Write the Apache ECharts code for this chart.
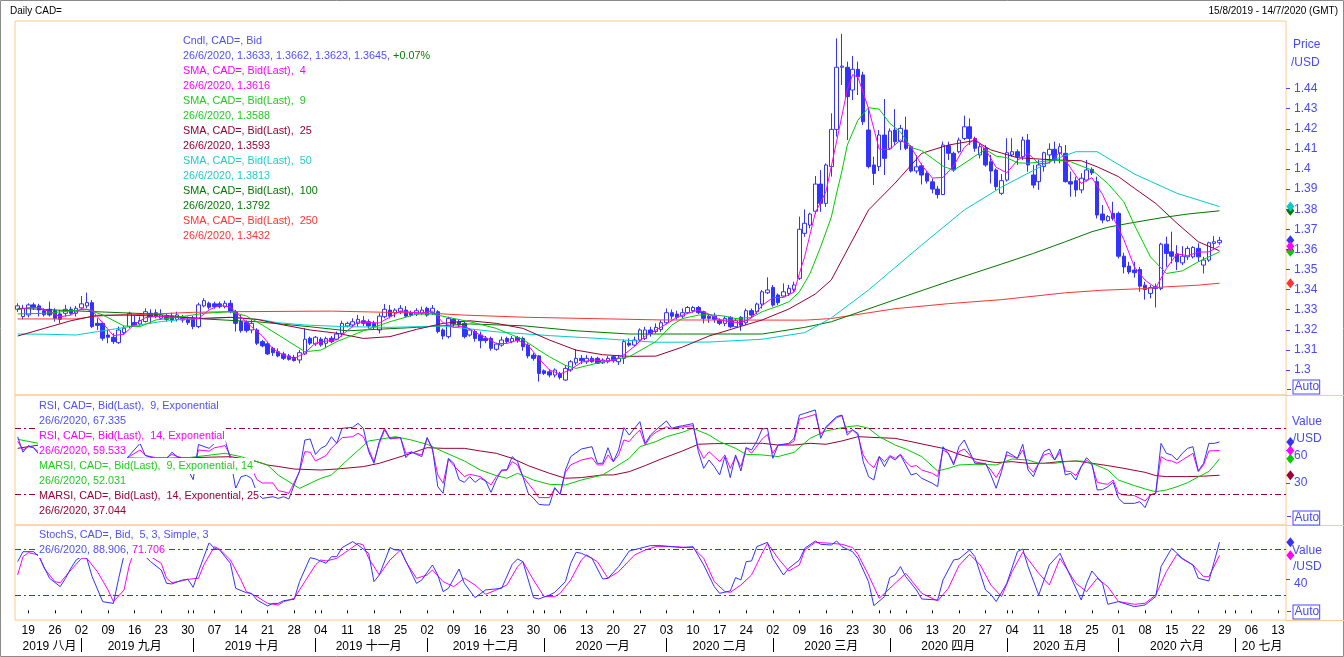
<!DOCTYPE html>
<html><head><meta charset="utf-8">
<script src="https://cdn.jsdelivr.net/npm/echarts@6/dist/echarts.min.js"></script>
<style>html,body{margin:0;padding:0;background:#fff}#c{width:1344px;height:657px}</style>
</head><body><div id="c"></div>
<script>
// ---------- DATA ----------
// daily candles from 15/8/2019, [open, close, low, high]
const ohlc = [
[1.3302,1.3319,1.3289,1.3332],[1.3266,1.3307,1.3252,1.3324],[1.3274,1.3324,1.3262,1.3332],[1.3324,1.3310,1.3299,1.3335],[1.3319,1.3299,1.3266,1.3329],
[1.3295,1.3275,1.3266,1.3307],[1.3302,1.3274,1.3266,1.3340],[1.3295,1.3257,1.3241,1.3307],[1.3279,1.3252,1.3232,1.3299],[1.3282,1.3302,1.3266,1.3324],
[1.3302,1.3282,1.3274,1.3315],[1.3282,1.3307,1.3266,1.3319],[1.3309,1.3329,1.3299,1.3368],[1.3319,1.3335,1.3307,1.3385],[1.3335,1.3216,1.3208,1.3348],
[1.3232,1.3222,1.3199,1.3257],[1.3232,1.3158,1.3146,1.3241],[1.3174,1.3163,1.3133,1.3199],[1.3163,1.3141,1.3130,1.3183],[1.3136,1.3199,1.3130,1.3216],
[1.3186,1.3208,1.3174,1.3219],[1.3216,1.3282,1.3208,1.3290],[1.3236,1.3221,1.3216,1.3269],[1.3229,1.3246,1.3219,1.3266],[1.3241,1.3290,1.3236,1.3307],
[1.3282,1.3266,1.3232,1.3302],[1.3285,1.3266,1.3257,1.3302],[1.3257,1.3274,1.3249,1.3302],[1.3269,1.3252,1.3241,1.3282],[1.3269,1.3249,1.3236,1.3285],
[1.3252,1.3274,1.3241,1.3290],[1.3262,1.3249,1.3236,1.3274],[1.3252,1.3236,1.3224,1.3266],[1.3257,1.3216,1.3203,1.3269],[1.3216,1.3324,1.3208,1.3335],
[1.3319,1.3345,1.3312,1.3357],[1.3332,1.3312,1.3302,1.3340],[1.3329,1.3315,1.3305,1.3340],[1.3329,1.3315,1.3307,1.3340],[1.3315,1.3332,1.3307,1.3345],
[1.3332,1.3290,1.3282,1.3348],[1.3290,1.3232,1.3191,1.3299],[1.3241,1.3196,1.3186,1.3274],[1.3236,1.3196,1.3186,1.3246],[1.3199,1.3232,1.3183,1.3252],
[1.3199,1.3133,1.3124,1.3208],[1.3141,1.3120,1.3113,1.3149],[1.3130,1.3080,1.3075,1.3141],[1.3108,1.3086,1.3070,1.3116],[1.3091,1.3070,1.3063,1.3108],
[1.3080,1.3058,1.3050,1.3091],[1.3070,1.3053,1.3047,1.3080],[1.3063,1.3047,1.3042,1.3075],[1.3050,1.3086,1.3033,1.3100],[1.3080,1.3153,1.3075,1.3208],
[1.3158,1.3133,1.3124,1.3166],[1.3130,1.3163,1.3120,1.3169],[1.3153,1.3125,1.3116,1.3163],[1.3133,1.3156,1.3108,1.3166],[1.3158,1.3141,1.3133,1.3169],
[1.3153,1.3179,1.3149,1.3191],[1.3182,1.3232,1.3166,1.3245],[1.3219,1.3232,1.3212,1.3240],[1.3224,1.3240,1.3212,1.3257],[1.3232,1.3252,1.3215,1.3274],
[1.3245,1.3232,1.3219,1.3268],[1.3240,1.3219,1.3207,1.3252],[1.3232,1.3215,1.3199,1.3245],[1.3199,1.3268,1.3182,1.3282],[1.3265,1.3302,1.3257,1.3328],
[1.3298,1.3268,1.3257,1.3323],[1.3285,1.3298,1.3262,1.3307],[1.3290,1.3307,1.3278,1.3323],[1.3298,1.3268,1.3262,1.3318],[1.3285,1.3273,1.3265,1.3295],
[1.3278,1.3295,1.3268,1.3307],[1.3282,1.3298,1.3273,1.3315],[1.3307,1.3273,1.3265,1.3315],[1.3285,1.3307,1.3273,1.3323],[1.3290,1.3191,1.3182,1.3298],
[1.3199,1.3169,1.3152,1.3207],[1.3166,1.3257,1.3157,1.3265],[1.3252,1.3229,1.3215,1.3257],[1.3240,1.3224,1.3212,1.3249],[1.3232,1.3166,1.3157,1.3240],
[1.3174,1.3199,1.3166,1.3207],[1.3191,1.3157,1.3141,1.3202],[1.3174,1.3146,1.3108,1.3191],[1.3157,1.3146,1.3133,1.3169],[1.3157,1.3108,1.3096,1.3166],
[1.3103,1.3129,1.3096,1.3136],[1.3124,1.3149,1.3116,1.3166],[1.3157,1.3141,1.3133,1.3166],[1.3141,1.3157,1.3133,1.3169],[1.3162,1.3146,1.3136,1.3169],
[1.3157,1.3116,1.3096,1.3166],[1.3124,1.3070,1.3058,1.3133],[1.3074,1.3058,1.3046,1.3086],[1.3070,1.2983,1.2942,1.3074],[1.2996,1.2983,1.2975,1.3003],
[1.2991,1.2975,1.2963,1.3003],[1.2975,1.3000,1.2963,1.3008],[1.2983,1.2963,1.2953,1.2991],[1.2950,1.3008,1.2946,1.3025],[1.3000,1.3041,1.2991,1.3049],
[1.3036,1.3058,1.3025,1.3103],[1.3058,1.3046,1.3030,1.3074],[1.3041,1.3058,1.3030,1.3074],[1.3058,1.3041,1.3036,1.3069],[1.3058,1.3033,1.3030,1.3066],
[1.3036,1.3049,1.3030,1.3058],[1.3041,1.3058,1.3033,1.3069],[1.3066,1.3046,1.3036,1.3074],[1.3041,1.3058,1.3025,1.3074],[1.3058,1.3141,1.3030,1.3152],
[1.3133,1.3124,1.3116,1.3157],[1.3124,1.3149,1.3116,1.3166],[1.3149,1.3199,1.3141,1.3207],[1.3157,1.3199,1.3149,1.3215],[1.3199,1.3182,1.3166,1.3215],
[1.3191,1.3212,1.3182,1.3232],[1.3202,1.3235,1.3190,1.3248],[1.3235,1.3285,1.3228,1.3306],[1.3285,1.3268,1.3252,1.3301],[1.3278,1.3262,1.3252,1.3295],
[1.3268,1.3285,1.3257,1.3306],[1.3285,1.3311,1.3278,1.3318],[1.3295,1.3311,1.3285,1.3318],[1.3311,1.3285,1.3278,1.3318],[1.3290,1.3257,1.3232,1.3295],
[1.3268,1.3257,1.3235,1.3278],[1.3268,1.3252,1.3235,1.3285],[1.3248,1.3232,1.3223,1.3257],[1.3232,1.3257,1.3218,1.3268],[1.3262,1.3215,1.3207,1.3268],
[1.3215,1.3245,1.3212,1.3257],[1.3262,1.3223,1.3195,1.3268],[1.3235,1.3295,1.3223,1.3306],[1.3295,1.3273,1.3262,1.3306],[1.3290,1.3328,1.3278,1.3335],
[1.3328,1.3389,1.3306,1.3398],[1.3384,1.3398,1.3378,1.3461],[1.3411,1.3323,1.3315,1.3423],[1.3373,1.3335,1.3323,1.3381],[1.3368,1.3389,1.3365,1.3431],
[1.3381,1.3406,1.3368,1.3423],[1.3401,1.3423,1.3390,1.3439],[1.3456,1.3700,1.3448,1.3763],[1.3680,1.3730,1.3663,1.3799],[1.3721,1.3776,1.3705,1.3783],
[1.3790,1.3925,1.3775,1.3965],[1.3925,1.3829,1.3787,1.3995],[1.3829,1.4020,1.3812,1.4028],[1.4012,1.4197,1.3962,1.4277],[1.4197,1.4506,1.4161,1.4650],
[1.4506,1.4512,1.4418,1.4672],[1.4506,1.4360,1.4144,1.4534],[1.4393,1.4496,1.4343,1.4562],[1.4496,1.4459,1.4368,1.4534],[1.4468,1.4235,1.4219,1.4484],
[1.4194,1.4012,1.4003,1.4302],[1.4020,1.3978,1.3920,1.4061],[1.4012,1.4169,1.3990,1.4194],[1.4169,1.4053,1.3970,1.4348],[1.4103,1.4189,1.4094,1.4202],
[1.4194,1.4136,1.4119,1.4298],[1.4136,1.4202,1.4094,1.4219],[1.4194,1.4103,1.4094,1.4260],[1.4111,1.3990,1.3983,1.4119],[1.3990,1.4011,1.3978,1.4069],
[1.4016,1.3970,1.3923,1.4028],[1.3978,1.3940,1.3928,1.3990],[1.3936,1.3900,1.3879,1.3953],[1.3900,1.3873,1.3853,1.3916],[1.3873,1.4119,1.3870,1.4136],
[1.4116,1.4078,1.4045,1.4136],[1.4078,1.3995,1.3986,1.4086],[1.4086,1.4144,1.4078,1.4156],[1.4152,1.4210,1.4144,1.4265],[1.4210,1.4152,1.4119,1.4252],
[1.4152,1.4103,1.4086,1.4161],[1.4070,1.4111,1.4053,1.4128],[1.4103,1.4020,1.4011,1.4119],[1.4036,1.3990,1.3928,1.4070],[1.3995,1.3912,1.3895,1.4003],
[1.3879,1.3942,1.3870,1.3975],[1.3945,1.4081,1.3937,1.4153],[1.4070,1.4086,1.4061,1.4153],[1.4086,1.4061,1.4020,1.4098],[1.4061,1.4144,1.4045,1.4161],
[1.4144,1.4020,1.3986,1.4174],[1.3970,1.3920,1.3904,1.4020],[1.3937,1.4020,1.3896,1.4045],[1.4012,1.4081,1.3987,1.4086],[1.4070,1.4098,1.4028,1.4128],
[1.4098,1.4045,1.4028,1.4136],[1.4078,1.4111,1.4028,1.4128],[1.4078,1.3937,1.3932,1.4119],[1.3937,1.3925,1.3862,1.3987],[1.3942,1.3896,1.3862,1.3962],
[1.3896,1.3954,1.3879,1.3979],[1.3945,1.3995,1.3937,1.4045],[1.3998,1.3981,1.3970,1.4008],[1.3937,1.3771,1.3754,1.3962],[1.3776,1.3746,1.3730,1.3821],
[1.3743,1.3763,1.3738,1.3771],[1.3779,1.3754,1.3743,1.3837],[1.3779,1.3566,1.3555,1.3788],[1.3566,1.3513,1.3480,1.3583],[1.3517,1.3488,1.3477,1.3538],
[1.3497,1.3484,1.3460,1.3538],[1.3500,1.3417,1.3389,1.3513],[1.3422,1.3400,1.3350,1.3439],[1.3381,1.3410,1.3356,1.3422],[1.3414,1.3405,1.3311,1.3430],
[1.3405,1.3626,1.3397,1.3633],[1.3626,1.3580,1.3513,1.3663],[1.3588,1.3566,1.3530,1.3688],[1.3577,1.3538,1.3497,1.3621],[1.3533,1.3566,1.3522,1.3616],
[1.3563,1.3605,1.3547,1.3616],[1.3563,1.3610,1.3555,1.3616],[1.3605,1.3563,1.3538,1.3630],[1.3522,1.3547,1.3480,1.3563],[1.3547,1.3633,1.3538,1.3638],
[1.3630,1.3638,1.3605,1.3666],[1.3633,1.3645,1.3623,1.3662]
];
// moving averages read at sample days: [dayIndex, value]
const sma4 = [[0,1.3300],[2,1.3310],[4,1.3310],[6,1.3290],[8,1.3265],[10,1.3273],[12,1.3305],[14,1.3297],[16,1.3233],[18,1.3171],[20,1.3178],[22,1.3228],[24,1.3260],[26,1.3267],[28,1.3265],[30,1.3262],[32,1.3252],[34,1.3256],[36,1.3299],[38,1.3322],[40,1.3313],[42,1.3263],[44,1.3214],[46,1.3170],[48,1.3105],[50,1.3074],[52,1.3057],[54,1.3085],[56,1.3134],[58,1.3144],[60,1.3150],[62,1.3196],[64,1.3239],[66,1.3236],[68,1.3234],[70,1.3263],[72,1.3294],[74,1.3287],[76,1.3284],[78,1.3293],[80,1.3235],[82,1.3212],[84,1.3219],[86,1.3187],[88,1.3162],[90,1.3132],[92,1.3132],[94,1.3148],[96,1.3122],[98,1.3057],[100,1.3000],[102,1.2980],[104,1.3003],[106,1.3038],[108,1.3051],[110,1.3045],[112,1.3047],[114,1.3076],[116,1.3118],[118,1.3168],[120,1.3198],[122,1.3229],[124,1.3263],[126,1.3282],[128,1.3298],[130,1.3278],[132,1.3250],[134,1.3239],[136,1.3235],[138,1.3259],[140,1.3321],[142,1.3360],[144,1.3361],[146,1.3388],[147,1.3480],[148,1.3565],[150,1.3783],[152,1.3888],[154,1.4138],[156,1.4394],[157,1.4469],[158,1.4457],[160,1.4301],[162,1.4099],[164,1.4097],[166,1.4145],[168,1.4108],[170,1.4019],[172,1.3955],[174,1.3958],[176,1.4016],[178,1.4107],[180,1.4152],[182,1.4097],[184,1.4008],[186,1.3981],[188,1.4043],[190,1.4078],[192,1.4026],[194,1.4030],[196,1.4084],[198,1.4005],[200,1.3928],[202,1.3957],[204,1.3873],[206,1.3759],[208,1.3649],[210,1.3513],[212,1.3447],[214,1.3408],[216,1.3505],[218,1.3578],[220,1.3569],[222,1.3586],[224,1.3588],[226,1.3616]];
const sma9 = [[0,1.3279],[5,1.3282],[10,1.3294],[13,1.3302],[16,1.3274],[20,1.3219],[23,1.3216],[26,1.3249],[30,1.3262],[35,1.3282],[40,1.3290],[43,1.3269],[46,1.3224],[50,1.3158],[54,1.3091],[57,1.3099],[60,1.3141],[62,1.3162],[65,1.3195],[70,1.3240],[75,1.3278],[78,1.3278],[81,1.3262],[85,1.3240],[90,1.3207],[95,1.3152],[98,1.3099],[100,1.3066],[103,1.3023],[105,1.3008],[110,1.3041],[115,1.3066],[120,1.3141],[123,1.3223],[125,1.3256],[128,1.3273],[130,1.3276],[133,1.3268],[135,1.3256],[138,1.3261],[140,1.3290],[143,1.3318],[145,1.3339],[147,1.3389],[149,1.3480],[151,1.3613],[153,1.3760],[154,1.3880],[155,1.3990],[156,1.4119],[158,1.4243],[160,1.4305],[162,1.4298],[164,1.4227],[166,1.4185],[168,1.4107],[170,1.4091],[172,1.4053],[174,1.4014],[176,1.3994],[178,1.4028],[180,1.4064],[182,1.4097],[184,1.4064],[186,1.4056],[188,1.4031],[190,1.4028],[195,1.4045],[198,1.4036],[200,1.4015],[202,1.3995],[205,1.3928],[208,1.3837],[210,1.3721],[213,1.3563],[216,1.3480],[219,1.3493],[222,1.3538],[226,1.3588]];
const sma25 = [[0,1.3169],[5,1.3207],[10,1.3245],[15,1.3272],[20,1.3274],[25,1.3269],[30,1.3262],[35,1.3257],[40,1.3262],[45,1.3252],[50,1.3224],[55,1.3199],[60,1.3183],[65,1.3157],[70,1.3166],[75,1.3202],[80,1.3232],[85,1.3245],[90,1.3232],[95,1.3207],[100,1.3149],[105,1.3099],[110,1.3076],[115,1.3068],[120,1.3069],[125,1.3114],[130,1.3169],[135,1.3209],[140,1.3249],[145,1.3303],[150,1.3378],[153,1.3448],[160,1.3796],[165,1.3930],[170,1.4078],[175,1.4119],[180,1.4142],[183,1.4095],[188,1.4056],[195,1.4045],[200,1.4041],[203,1.4011],[207,1.3962],[210,1.3904],[214,1.3829],[218,1.3730],[222,1.3638],[226,1.3593]];
const sma50 = [[0,1.3179],[5,1.3178],[11,1.3174],[15,1.3191],[19,1.3207],[23,1.3224],[27,1.3241],[31,1.3252],[36,1.3257],[40,1.3262],[43,1.3257],[46,1.3249],[49,1.3235],[54,1.3224],[61,1.3216],[70,1.3212],[80,1.3219],[90,1.3190],[100,1.3171],[110,1.3156],[120,1.3138],[130,1.3139],[140,1.3153],[148,1.3186],[153,1.3259],[160,1.3398],[170,1.3622],[178,1.3796],[185,1.3910],[195,1.4048],[199,1.4086],[203,1.4086],[210,1.3975],[218,1.3879],[226,1.3813]];
const sma100 = [[0,1.3307],[10,1.3295],[25,1.3279],[35,1.3254],[45,1.3240],[55,1.3215],[62,1.3195],[75,1.3212],[85,1.3229],[95,1.3220],[105,1.3195],[115,1.3179],[125,1.3179],[140,1.3179],[148,1.3212],[153,1.3240],[165,1.3350],[175,1.3440],[185,1.3527],[191,1.3580],[197,1.3638],[202,1.3688],[205,1.3710],[209,1.3730],[215,1.3757],[220,1.3776],[226,1.3792]];
const sma250 = [[0,1.3254],[11,1.3254],[15,1.3269],[24,1.3277],[33,1.3287],[40,1.3290],[59,1.3293],[78,1.3282],[84,1.3273],[96,1.3262],[121,1.3249],[148,1.3248],[153,1.3256],[165,1.3305],[175,1.3330],[185,1.3350],[197,1.3384],[204,1.3397],[212,1.3405],[216,1.3414],[222,1.3422],[226,1.3432]];
// RSI panel
const rsi9 = [[0,72],[1,58],[2,64],[3,62],[4,56],[5,45],[6,47],[7,40],[8,38],[9,55],[10,50],[11,57],[12,63],[13,65],[14,40],[15,41],[16,30],[17,31],[18,28],[19,45],[20,50],[21,55],[23,66],[24,55],[26,52],[28,52],[29,58],[30,54],[31,52],[33,33],[34,65],[36,61.5],[37,66],[38,67.5],[39,69],[40,52],[41,25],[42,35.7],[43,37],[44,34],[45,21],[46,16],[48,17.5],[49,16],[50,17.5],[51,15.5],[53,41],[54,69],[55,70],[56,56],[57,61.5],[58,64],[59,72],[60,66],[61,79.7],[63,80.6],[64,84.2],[65,79.7],[66,58.5],[67,47.9],[68,67.6],[69,79.7],[70,70.6],[71,71.2],[72,71.2],[73,53],[74,58.5],[75,56],[76,54],[77,71.2],[78,61.5],[79,26.7],[80,20.6],[81,52.4],[82,48],[83,33],[84,30.6],[85,35.8],[86,30.6],[87,34.3],[88,31.8],[89,21.5],[90,32.7],[91,41.8],[92,42],[93,54],[94,49.4],[95,35.8],[96,20.6],[97,16.1],[98,10.6],[99,10],[100,10],[101,25.8],[102,19.7],[103,41.8],[104,54],[106,60.9],[108,63],[109,47.9],[110,47.9],[111,62.1],[112,49.4],[113,60],[114,80.3],[115,73.6],[116,79.7],[117,85.8],[118,66],[119,73.6],[120,78.2],[122,86.4],[123,79.7],[124,81.2],[125,82],[127,84],[128,58.5],[129,43.3],[130,50.9],[131,44.9],[132,37.3],[133,54],[134,34.9],[135,55.5],[136,40.9],[137,62.1],[138,60],[139,68],[140,79.1],[141,79.7],[142,52.4],[143,64.5],[145,66],[146,70.6],[147,91.8],[148,93.3],[150,96.4],[151,70.6],[152,81.2],[154,90.3],[155,91.8],[156,73.6],[157,78.2],[158,75.2],[159,49.4],[160,35.8],[161,32.7],[162,54],[163,44.9],[164,54],[165,50.9],[166,55.5],[167,46.4],[168,37.3],[169,38.8],[170,34.3],[172,29.7],[173,26.7],[174,63],[175,57],[176,46.4],[177,63],[178,69.1],[179,58.5],[180,47.9],[182,47.9],[183,37.3],[184,25.2],[185,40.3],[186,58.5],[187,55.5],[188,52.4],[189,65.2],[190,41.8],[191,35.8],[192,47.9],[193,58.5],[194,60.9],[195,50.9],[196,60.9],[197,37.3],[198,38.8],[199,32.7],[200,44.9],[201,53],[202,47.9],[203,23.6],[204,24],[205,26.7],[206,30.6],[207,16.1],[208,11.5],[210,11.5],[211,13],[212,7.6],[213,19.1],[214,20.6],[215,66],[216,57],[217,55.5],[218,50.9],[219,57],[220,61.5],[221,63],[222,40.9],[223,47.9],[224,66],[225,66],[226,67.335]];
const rsi14 = [[0,68],[1,60],[2,63],[3,62],[4,58],[5,50],[6,51],[7,46],[8,45],[9,55],[10,52],[11,56],[12,60],[13,61],[14,45],[15,46],[16,38],[17,39],[18,36],[19,47],[20,50],[21,54],[23,60],[24,55],[26,53],[28,53],[29,56],[30,54],[31,53],[33,40],[34,60],[36,59],[37,62],[38,63],[39,64],[40,55],[41,40],[42,44],[43,45],[44,43],[45,33],[46,30],[48,30],[49,23],[50,22],[51,20.6],[53,40.3],[54,58.5],[55,58],[56,50],[58,55],[59,61.5],[61,71.2],[63,72.1],[64,75.2],[65,72.1],[67,49.4],[68,66],[69,78.2],[70,70],[72,71.2],[73,57],[74,58],[76,55.5],[77,71.2],[78,60],[79,37.3],[80,29.7],[81,51.8],[82,45.8],[84,35.8],[85,37.9],[87,35.8],[89,28.2],[90,35.8],[91,41],[92,41.8],[93,49.4],[94,46.4],[95,35.8],[97,23.6],[98,16.7],[100,16.7],[101,25.2],[102,19.7],[103,39.7],[104,46.4],[106,50.9],[108,53],[109,46.4],[110,46.4],[111,55.5],[112,49.4],[113,55.5],[114,69.1],[115,67.6],[116,73.6],[117,78.2],[118,64.5],[119,72.1],[120,76.1],[122,81.2],[123,79.1],[124,80.3],[127,82.1],[128,62],[129,52.4],[130,58.5],[131,54],[132,49.4],[133,55.5],[134,43.3],[135,54],[136,44.9],[137,62.1],[138,57],[140,70],[141,74.2],[142,57],[143,64.5],[145,65.2],[146,68.2],[147,88.2],[148,89.4],[150,92.4],[151,74.2],[152,79.7],[154,89.4],[155,91.2],[156,76.1],[157,78.2],[158,73.6],[159,55.5],[160,47.9],[161,43.9],[162,54],[163,49.4],[164,54.9],[165,52.4],[166,56.1],[167,49.4],[168,44.9],[169,45.8],[170,41.8],[172,38.8],[173,35.8],[174,60],[175,57],[176,47.9],[177,58.5],[178,60.9],[179,55.5],[180,49.4],[182,47],[183,41.8],[184,34.9],[185,43.3],[186,55.5],[187,54],[188,52.4],[189,60],[190,44.9],[191,39.7],[192,47.9],[193,55.5],[194,57],[195,50.9],[196,57.9],[197,40.9],[198,40.3],[199,36.7],[200,44.9],[201,50.9],[202,46.4],[203,30.6],[204,29.5],[205,28.8],[206,32.7],[207,20.6],[208,19.1],[210,18.5],[212,13.6],[213,19.1],[214,20.6],[215,54],[216,50.9],[217,50],[218,47.9],[219,50.9],[221,57],[222,40.3],[223,46.4],[224,59.1],[226,59.533]];
const marsi9 = [[0,69.7],[4,66],[8,60],[14,57],[20,53],[26,52],[31,52.4],[39,57],[42,53.9],[44,50.9],[47,46.3],[49,37.2],[52,28.1],[53,25.1],[55,29.7],[57,34.2],[59,37.3],[62,50.9],[66,68.2],[68,69.7],[71,72.1],[74,69.1],[77,65.2],[80,58.5],[84,50],[87,41.8],[90,36.7],[92,34.3],[94,38.8],[97,32.7],[100,28.8],[103,28.2],[106,32.7],[110,37.3],[112,43.3],[115,52.4],[117,63],[120,67.6],[122,72.1],[125,76.1],[127,79.7],[130,73.6],[132,67.6],[135,61.5],[137,56],[140,55.5],[143,54],[146,57.9],[149,70.6],[152,77.3],[156,81.2],[158,82.1],[160,79.7],[162,72.1],[165,64.5],[167,60.9],[170,54],[173,40.9],[175,43.3],[177,46.4],[180,47],[184,46.4],[187,51.8],[190,50.9],[192,47.9],[195,47.9],[197,49.4],[200,50],[202,47.9],[205,41.8],[207,32.7],[210,27.6],[212,24.6],[214,22.1],[216,23.6],[218,26.6],[220,30.3],[222,35.5],[224,40.5],[225,46],[226,52.031]];
const marsi25 = [[0,61.5],[4,64.5],[10,60],[15,56],[21,52.4],[27,52.4],[40,53.9],[44,50.9],[47,46.3],[49,45],[52,42.7],[57,41.8],[60,42.7],[65,44.9],[68,47.9],[71,52.4],[74,57],[77,62.1],[80,61.5],[84,61.5],[87,59.1],[90,57],[93,52.4],[96,45.8],[100,38.8],[103,34.3],[106,34.9],[110,37.3],[112,37.3],[115,40.3],[118,45.8],[121,51.8],[125,59.1],[128,65.2],[131,65.8],[134,65.8],[137,66.1],[140,66.1],[143,64.5],[146,64.5],[149,66.1],[152,65.2],[155,68.2],[158,72.1],[162,71.2],[165,70.6],[168,67.6],[171,64.5],[174,61.5],[177,56.1],[180,51.8],[184,48.5],[187,49.4],[190,47.9],[193,47.9],[196,49.4],[199,50],[202,47.9],[205,45.8],[208,43.3],[212,39.7],[214,36.7],[216,35.8],[220,35.8],[223,36.2],[226,37.044]];
// Stochastic panel
const stochK = [[0,63.5],[1,76.5],[3,76.5],[4,70],[6,41.8],[8,30.9],[9,41.8],[10,55],[11,65.7],[12,70],[13,67.8],[14,44],[16,11.3],[18,9.1],[19,41.8],[20,72.2],[21,88],[22,92],[23,85],[24,70],[25,63.5],[27,52.6],[28,35.2],[29,34.4],[31,39.6],[32,40.5],[33,30],[34,50.4],[36,88.3],[37,80.9],[38,78.7],[40,61.3],[41,28.7],[43,23],[44,22.2],[45,13.5],[47,5.7],[48,9.1],[49,9.1],[50,12.6],[52,14.4],[53,37.4],[55,68.7],[56,67],[58,61.3],[59,70],[60,70],[61,81.8],[63,89.6],[64,85.2],[66,74.4],[67,37.4],[68,46.1],[70,81.8],[71,78.7],[72,78.7],[75,35.2],[76,39.6],[78,59.2],[79,46.1],[80,24.4],[81,28.7],[83,53.9],[84,35.2],[86,16.6],[88,26.6],[91,28.7],[93,60],[94,67],[95,63.5],[97,16.6],[98,14.8],[100,20],[101,23.5],[103,37.4],[104,61.3],[105,75.7],[106,74.4],[108,67.8],[110,40.9],[111,41.8],[113,57],[115,77.4],[117,80.9],[119,84.4],[121,84.4],[125,81.8],[127,83.1],[129,59.2],[131,30.9],[132,22.2],[134,25.3],[135,42.7],[136,39.6],[137,63.5],[138,64.4],[139,83.1],[141,88.7],[142,67.8],[144,46.1],[145,54.8],[147,65.7],[148,80.9],[150,90.4],[151,86.1],[153,85.2],[154,90.4],[155,83.1],[157,76.5],[158,67.8],[160,37.4],[161,6.1],[163,17.9],[164,42.7],[165,46.1],[166,57],[167,43.9],[169,26.6],[170,14.8],[173,13.5],[174,39.6],[176,65.7],[177,67],[179,78.7],[180,70],[182,26.6],[183,20.9],[184,11.4],[186,35.2],[188,76.5],[189,80],[190,57],[192,20],[194,59.2],[196,74.4],[198,43.9],[200,13.5],[201,35.2],[202,51.3],[204,35.2],[205,7.9],[207,11.4],[210,4.8],[212,7],[214,17.9],[215,57],[217,80.9],[219,67.8],[221,59.2],[222,41.8],[224,38.3],[225,63.5],[226,88.906]];
const stochD = [[0,46.1],[1,70],[2,75.2],[4,72.2],[5,54.8],[7,37.4],[8,36.1],[10,52.6],[12,67.8],[13,67.8],[15,50.4],[17,26.5],[18,11.3],[20,26.5],[21,59.1],[22,78.7],[23,82],[24,78],[25,70],[27,61.3],[28,41.8],[29,36.1],[31,38.7],[32,40.5],[34,41.8],[35,59.1],[37,83],[38,79.6],[40,65.7],[42,39.6],[43,24.4],[45,17.9],[47,9.1],[49,7],[50,11.3],[52,15.7],[54,37.4],[56,59.2],[57,65.7],[58,64.4],[60,67.8],[62,77.4],[64,87.4],[65,85.2],[66,67.8],[68,46.1],[70,65.7],[72,78.7],[73,63.5],[75,41.8],[77,46.1],[78,52.6],[80,37.4],[82,30.9],[84,41.8],[86,33.1],[88,20.9],[90,26.6],[92,33.1],[94,57],[95,63.5],[97,39.6],[99,17.9],[101,17.9],[102,22.2],[104,39.6],[106,65.7],[107,72.2],[109,63.5],[111,41.8],[113,50.5],[116,72.2],[118,78.7],[120,83.1],[123,83.1],[127,81.8],[129,67.8],[131,37.4],[133,24.4],[134,23.5],[136,33.1],[138,46.1],[140,74.4],[141,87.4],[143,67.8],[145,51.3],[147,59.2],[148,78.7],[150,88.7],[153,87.4],[155,86.1],[157,81.8],[158,73.1],[160,46.1],[162,15.7],[164,28.7],[167,48.3],[168,39.6],[170,22.2],[173,12.2],[175,28.7],[177,58.3],[179,73.1],[181,59.2],[183,33.1],[185,17.9],[187,50.5],[189,75.7],[192,48.3],[194,33.1],[196,67.8],[199,35.2],[201,24.4],[203,41.8],[205,30.9],[207,11.4],[210,7.9],[212,9.2],[214,20],[216,50.5],[218,73.1],[219,67],[221,59.2],[223,43.9],[224,43.9],[226,71.706]];
// axis ticks / bands / labels
const priceTicks = [1.30,1.31,1.32,1.33,1.34,1.35,1.36,1.37,1.38,1.39,1.40,1.41,1.42,1.43,1.44];
const rsiTicks = [30,60];
const stochTicks = [40];
const rsiBands = [80,20];
const stochBands = [80,20];
const monthNames = ['2019 八月','2019 九月','2019 十月','2019 十一月','2019 十二月','2020 一月','2020 二月','2020 三月','2020 四月','2020 五月','2020 六月','20 七月'];
const lastDate = '26/6/2020';

// ---------- categories: every weekday 15/8/2019 .. 14/7/2020 ----------
const dates = [];
for (let t = Date.UTC(2019,7,15); t <= Date.UTC(2020,6,14); t += 86400000) {
  const d = new Date(t), wd = d.getUTCDay();
  if (wd !== 0 && wd !== 6) dates.push(d.toISOString().slice(0,10));
}
const isMonday = dates.map(s => new Date(s + 'T00:00:00Z').getUTCDay() === 1);
const monthStart = new Set(), monthMid = {};
let seg = 0, mc = 0;
for (let i = 1; i <= dates.length; i++) {
  if (i === dates.length || dates[i].slice(0,7) !== dates[i-1].slice(0,7)) {
    monthMid[Math.round((seg + i - 1) / 2)] = monthNames[mc++];
    if (i < dates.length) monthStart.add(i);
    seg = i;
  }
}

// ---------- styling ----------
const BLUE='#3333ff', MAG='#ff00ff', GRN='#00cc00', MAR='#990033', CYN='#00cccc', DGR='#007700', RED='#ff3333';
const AX='#4848ff', FR='#ffc890', TXTBLUE='#4f4fff';
const FAM = "'Liberation Sans', Arial, 'Noto Sans CJK SC', sans-serif";
const LF = '10.8px ' + FAM;
const lastV = a => a[a.length-1][1];
const toCat = a => a.map(p => [dates[p[0]], p[1]]);
const diamond = (color, v) => ({symbol:'diamond', symbolSize:[8,10], symbolOffset:[7,0], silent:true,
  label:{show:false}, itemStyle:{color}, data:[{coord:[dates[dates.length-1], v]}]});
const lineS = (data, color, xi, yi, extra) => Object.assign({type:'line', xAxisIndex:xi, yAxisIndex:yi,
  data:toCat(data), symbol:'none', showSymbol:false, z:3, lineStyle:{color, width:1}, itemStyle:{color},
  markPoint:diamond(color, lastV(data)), emphasis:{disabled:true}}, extra||{});
const band = (vals, color) => ({silent:true, symbol:'none', label:{show:false},
  lineStyle:{color, width:1, type:[6,3,2,3]}, data: vals.map(v => ({yAxis:v}))});

const mctx = document.createElement('canvas').getContext('2d');
mctx.font = LF;
const tw = s => mctx.measureText(s).width;

const G = [];
function txt(x, y, text, color, font, extra) {
  G.push(Object.assign({type:'text', x, y, z:100, silent:true,
    style:Object.assign({text, fill:color, font: font || LF, verticalAlign:'middle', align:'left'}, extra||{})}));
}
// legend row: white cell (full row height) behind the text, hiding the lines under it
function row(x, y, text, color) {
  G.push({type:'rect', silent:true, z:99, shape:{x:x - 1, y:y - 8, width:tw(text) + 2, height:16}, style:{fill:'#fff', stroke:null}});
  txt(x, y, text, color);
}
function ln(x1,y1,x2,y2,color){ G.push({type:'line', silent:true, z:99, shape:{x1,y1,x2,y2}, style:{stroke:color, lineWidth:1}}); }

// frame + headings
G.push({type:'rect', silent:true, z:98, shape:{x:0.5,y:0.5,width:1343,height:656}, style:{fill:null, stroke:'#8a8a8a', lineWidth:1}});
txt(10, 11, 'Daily CAD=', '#000', '10px ' + FAM);
txt(1338, 11, '15/8/2019 - 14/7/2020 (GMT)', '#000', '10px ' + FAM, {align:'right'});
// separators extended into the axis area
[395.5, 525.5, 620.5].forEach(y => ln(1286, y, 1344, y, FR));

// main legend
const c = ohlc[ohlc.length-1];
const mainRows = [
  ['Cndl, CAD=, Bid', TXTBLUE],
  [lastDate + ', ' + c[0].toFixed(4) + ', ' + c[3].toFixed(4) + ', ' + c[2].toFixed(4) + ', ' + c[1].toFixed(4) + ', ', TXTBLUE],
  ['SMA, CAD=, Bid(Last),  4', MAG], [lastDate + ', ' + lastV(sma4).toFixed(4), MAG],
  ['SMA, CAD=, Bid(Last),  9', '#22cc22'], [lastDate + ', ' + lastV(sma9).toFixed(4), '#22cc22'],
  ['SMA, CAD=, Bid(Last),  25', MAR], [lastDate + ', ' + lastV(sma25).toFixed(4), MAR],
  ['SMA, CAD=, Bid(Last),  50', '#22cccc'], [lastDate + ', ' + lastV(sma50).toFixed(4), '#22cccc'],
  ['SMA, CAD=, Bid(Last),  100', DGR], [lastDate + ', ' + lastV(sma100).toFixed(4), DGR],
  ['SMA, CAD=, Bid(Last),  250', RED], [lastDate + ', ' + lastV(sma250).toFixed(4), RED]
];
mainRows.forEach((r, k) => row(183, 41 + 15*k, r[0], r[1]));
row(183 + tw(mainRows[1][0]), 56, '+0.07%', '#008000');

// RSI legend
const rsiRows = [
  ['RSI, CAD=, Bid(Last),  9, Exponential', TXTBLUE], [lastDate + ', ' + lastV(rsi9).toFixed(3), TXTBLUE],
  ['RSI, CAD=, Bid(Last),  14, Exponential', MAG], [lastDate + ', ' + lastV(rsi14).toFixed(3), MAG],
  ['MARSI, CAD=, Bid(Last),  9, Exponential, 14', '#22cc22'], [lastDate + ', ' + lastV(marsi9).toFixed(3), '#22cc22'],
  ['MARSI, CAD=, Bid(Last),  14, Exponential, 25', MAR], [lastDate + ', ' + lastV(marsi25).toFixed(3), MAR]
];
rsiRows.forEach((r, k) => row(39, 406 + 15*k, r[0], r[1]));
// Stoch legend
row(39, 535, 'StochS, CAD=, Bid,  5, 3, Simple, 3', TXTBLUE);
const st2 = lastDate + ', ' + lastV(stochK).toFixed(3) + ', ';
row(39, 550, st2, TXTBLUE);
row(39 + tw(st2), 550, lastV(stochD).toFixed(3), MAG);

// axis captions and Auto boxes
const AF = '12px ' + FAM;
txt(1293, 45, 'Price', AX, AF);
txt(1291, 63, '/USD', AX, AF);
txt(1292, 422, 'Value', AX, AF);
txt(1293, 439, '/USD', AX, AF);
txt(1292, 551, 'Value', AX, AF);
txt(1293, 567, '/USD', AX, AF);
[[387, 389], [518, 516], [612, 611]].forEach(p => {
  txt(1293.5, p[0], 'Auto', AX, AF, {borderColor:AX, borderWidth:1, padding:[1,0,0,1], backgroundColor:'#fff'});
  ln(1287, p[1] + 0.5, 1291, p[1] + 0.5, AX);
});

const xHidden = gi => ({type:'category', gridIndex:gi, data:dates, boundaryGap:true,
  axisLine:{show:false}, axisTick:{show:false}, axisLabel:{show:false}, splitLine:{show:false}});
const yBase = (gi, min, max, ticks, fmt, rich) => ({type:'value', gridIndex:gi, position:'right', min, max,
  splitLine:{show:false}, axisLine:{show:false},
  axisTick:{show:true, length:4, customValues:ticks, lineStyle:{color:AX, width:1}},
  axisLabel:{customValues:ticks, color:AX, fontSize:12, fontFamily:FAM, margin:8, formatter:fmt, rich}});

const option = {
  animation:false,
  backgroundColor:'#fff',
  grid:[
    {left:15, top:21, width:1271, height:374, show:true, borderColor:FR, borderWidth:1, outerBoundsMode:'none'},
    {left:15, top:395, width:1271, height:130, show:true, borderColor:FR, borderWidth:1, outerBoundsMode:'none'},
    {left:15, top:525, width:1271, height:95, show:true, borderColor:FR, borderWidth:1, outerBoundsMode:'none'}
  ],
  xAxis:[
    xHidden(0), xHidden(1),
    Object.assign(xHidden(2), {position:'bottom',
      axisTick:{show:true, alignWithLabel:true, length:3, interval:i => isMonday[i] || monthStart.has(i), lineStyle:{color:'#000'}},
      axisLabel:{show:true, interval:i => isMonday[i], formatter:v => v.slice(8,10), color:'#000', fontSize:12, fontFamily:FAM, margin:5}}),
    Object.assign(xHidden(2), {position:'bottom', offset:18,
      axisTick:{show:true, alignWithLabel:true, length:14, interval:i => monthStart.has(i), lineStyle:{color:'#000'}},
      axisLabel:{show:true, interval:i => (i in monthMid), formatter:(v, i) => monthMid[i] || '', color:'#000', fontSize:12, fontFamily:FAM, margin:3}})
  ],
  yAxis:[
    yBase(0, 1.28756, 1.47363, priceTicks, v => String(+v.toFixed(2))),
    yBase(1, -8.2, 110, rsiTicks, v => v === 60 ? '{s|60}' : String(v), {s:{padding:[12,0,0,0], color:AX, fontSize:12, fontFamily:FAM}}),
    yBase(2, -12.6, 111.3, stochTicks, v => '{s|' + v + '}', {s:{padding:[8,0,0,0], color:AX, fontSize:12, fontFamily:FAM}})
  ],
  graphic:G,
  series:[
    {type:'candlestick', xAxisIndex:0, yAxisIndex:0, data:ohlc, barWidth:4, z:2,
      itemStyle:{color:'#ffffff', color0:BLUE, borderColor:BLUE, borderColor0:BLUE, borderWidth:1},
      markPoint:diamond(BLUE, c[1])},
    lineS(sma250, RED, 0, 0),
    lineS(sma100, DGR, 0, 0),
    lineS(sma50, CYN, 0, 0),
    lineS(sma25, MAR, 0, 0),
    lineS(sma9, GRN, 0, 0),
    lineS(sma4, MAG, 0, 0),
    lineS(marsi25, MAR, 1, 1, {markLine:band(rsiBands, MAR)}),
    lineS(marsi9, GRN, 1, 1),
    lineS(rsi14, MAG, 1, 1),
    lineS(rsi9, BLUE, 1, 1),
    lineS(stochD, MAG, 2, 2, {markLine:band(stochBands, BLUE)}),
    lineS(stochK, BLUE, 2, 2)
  ]
};
const chart = echarts.init(document.getElementById('c'), null, {renderer:'canvas'});
chart.setOption(option);
</script>
</body></html>
